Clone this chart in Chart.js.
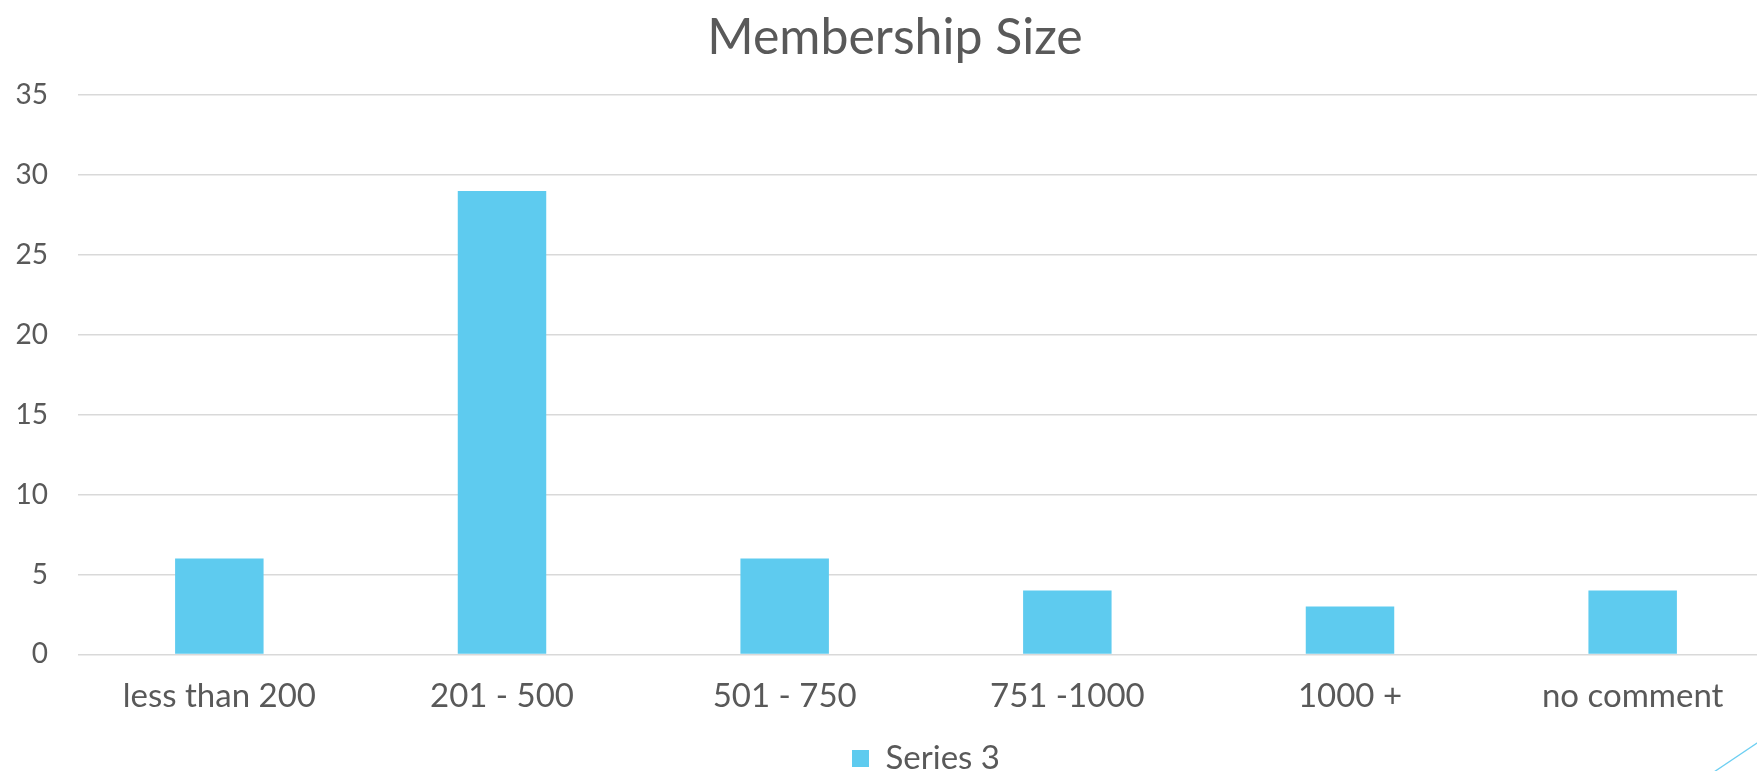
<!DOCTYPE html>
<html lang="en">
<head>
  <meta charset="UTF-8">
  <title>Membership Size</title>
  <script src="https://cdn.jsdelivr.net/npm/chart.js"></script>
  <style>
    html, body { margin: 0; padding: 0; background: #fff; overflow: hidden; }
    /* canvas is a bit bigger than the window: the plot runs off the right edge like the slide */
    #wrap { position: relative; left: -4px; width: 1778px; height: 785px; }
  </style>
</head>
<body>
  <div id="wrap">
    <canvas id="membership_chart"></canvas>
  </div>

  <script>
    // chart data
    const categories = ['less than 200', '201 - 500', '501 - 750', '751 -1000', '1000 +', 'no comment'];
    const series3 = [6, 29, 6, 4, 3, 4];
    const yTicks = [0, 5, 10, 15, 20, 25, 30, 35];

    const textColor = '#595959';
    const barColor = '#5ECBEF';
    const fontFamily = 'Lato, "Noto Sans", sans-serif';

    // thin slide accent line in the bottom-right corner
    const cornerLine = {
      id: 'cornerLine',
      afterDraw(chart) {
        const ctx = chart.ctx;
        ctx.save();
        ctx.strokeStyle = '#6DCFF2';
        ctx.lineWidth = 1.5;
        ctx.beginPath();
        ctx.moveTo(1776, 733);
        ctx.lineTo(1706, 780);
        ctx.stroke();
        ctx.restore();
      }
    };

    const membershipChart = new Chart(document.getElementById('membership_chart'), {
      type: 'bar',
      data: {
        labels: categories,
        datasets: [{
          label: 'Series 3',
          data: series3,
          backgroundColor: barColor,
          borderWidth: 0,
          categoryPercentage: 1,
          barPercentage: 0.313
        }]
      },
      options: {
        responsive: true,
        maintainAspectRatio: false,
        animation: false,
        layout: {
          padding: { left: 20, right: 0, top: 0, bottom: 0 }
        },
        plugins: {
          title: {
            display: true,
            text: 'Membership Size',
            color: textColor,
            font: { family: fontFamily, size: 50, weight: 'normal' },
            padding: { top: 8, bottom: 27 }
          },
          legend: {
            position: 'bottom',
            fullSize: false,
            labels: {
              color: textColor,
              font: { family: fontFamily, size: 33 },
              boxWidth: 17,
              boxHeight: 17,
              padding: 12
            }
          },
          tooltip: { enabled: false }
        },
        scales: {
          x: {
            grid: { display: false },
            border: { display: false },
            ticks: {
              color: textColor,
              font: { family: fontFamily, size: 33 },
              padding: 14,
              maxRotation: 0
            },
            afterFit(axis) {
              axis.paddingLeft = 0;
              axis.paddingRight = 0;
            }
          },
          y: {
            min: 0,
            max: 35,
            afterBuildTicks(axis) {
              axis.ticks = yTicks.map(v => ({ value: v }));
            },
            afterFit(axis) {
              axis.width = 62;
            },
            grid: { color: '#D9D9D9', lineWidth: 1.5, drawTicks: false },
            border: { display: false },
            ticks: {
              color: textColor,
              font: { family: fontFamily, size: 28 },
              padding: 30
            }
          }
        }
      },
      plugins: [cornerLine]
    });
  </script>
</body>
</html>
